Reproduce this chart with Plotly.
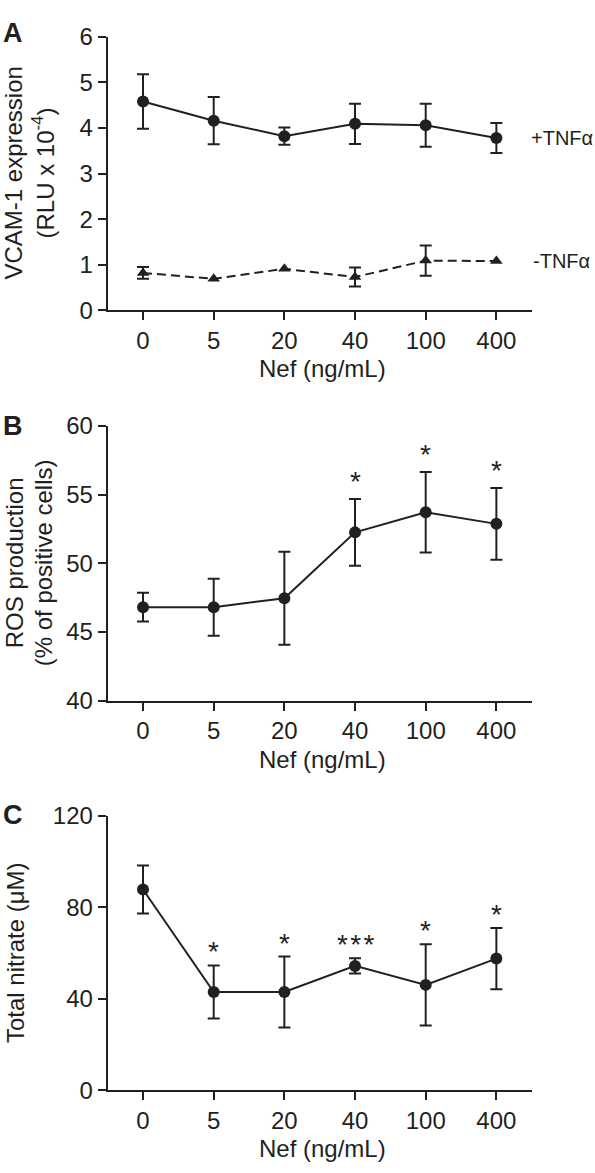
import plotly.graph_objects as go

# ---------------- data ----------------
nef_labels = ["0", "5", "20", "40", "100", "400"]

vcam_plus = [4.58, 4.16, 3.82, 4.09, 4.06, 3.78]
vcam_plus_err = [0.60, 0.52, 0.19, 0.44, 0.47, 0.33]
vcam_minus = [0.82, 0.69, 0.91, 0.73, 1.09, 1.08]
vcam_minus_err = [0.13, None, None, 0.21, 0.33, None]

ros = [46.8, 46.8, 47.45, 52.25, 53.72, 52.87]
ros_err = [1.05, 2.08, 3.39, 2.43, 2.93, 2.62]
ros_sig = ["", "", "", "*", "*", "*"]

nitrate = [87.8, 43.0, 43.0, 54.4, 46.1, 57.6]
nitrate_err = [10.5, 11.6, 15.5, 3.3, 17.8, 13.4]
nitrate_sig = ["", "*", "*", "*\u200a*\u200a*", "*", "*"]

# ---------------- style ----------------
W, H = 595, 1173
INK = "#231f20"
FONT = "Arial, Liberation Sans, Helvetica, sans-serif"
TICK_SIZE = 24
TITLE_SIZE = 24


def px_x(p):
    return p / W


def px_y(p):
    return 1 - p / H


x_dom = [px_x(107.7), px_x(531.7)]
panels = [  # (top px, bottom px)
    (23.3, 303.3),
    (421.7, 702.7),
    (820.7, 1101.7),
]
xpos = list(range(len(nef_labels)))

fig = go.Figure()


def err_trace(ys, errs, axis_suffix):
    keep = [i for i, e in enumerate(errs) if e is not None]
    return go.Scatter(
        x=[xpos[i] for i in keep],
        y=[ys[i] for i in keep],
        mode="markers",
        marker=dict(size=1, opacity=0, color=INK),
        error_y=dict(type="data", array=[errs[i] for i in keep], visible=True,
                     color=INK, thickness=2, width=6),
        xaxis="x" + axis_suffix, yaxis="y" + axis_suffix,
        showlegend=False, hoverinfo="skip",
    )


# Panel A
fig.add_trace(err_trace(vcam_plus, vcam_plus_err, ""))
fig.add_trace(go.Scatter(x=xpos, y=vcam_plus, mode="lines+markers",
                         line=dict(color=INK, width=2),
                         marker=dict(symbol="circle", size=12, color=INK),
                         xaxis="x", yaxis="y", showlegend=False, name="+TNFα"))
fig.add_trace(err_trace(vcam_minus, vcam_minus_err, ""))
fig.add_trace(go.Scatter(x=xpos, y=vcam_minus, mode="lines+markers",
                         line=dict(color=INK, width=2, dash="9px,5px"),
                         marker=dict(symbol="triangle-up", size=11, color=INK),
                         xaxis="x", yaxis="y", showlegend=False, name="-TNFα"))

# Panel B
fig.add_trace(err_trace(ros, ros_err, "2"))
fig.add_trace(go.Scatter(x=xpos, y=ros, mode="lines+markers",
                         line=dict(color=INK, width=2),
                         marker=dict(symbol="circle", size=12, color=INK),
                         xaxis="x2", yaxis="y2", showlegend=False))

# Panel C
fig.add_trace(err_trace(nitrate, nitrate_err, "3"))
fig.add_trace(go.Scatter(x=xpos, y=nitrate, mode="lines+markers",
                         line=dict(color=INK, width=2),
                         marker=dict(symbol="circle", size=12, color=INK),
                         xaxis="x3", yaxis="y3", showlegend=False))

axis_common = dict(showline=True, linecolor=INK, linewidth=2, ticks="outside",
                   ticklen=8, tickwidth=2, tickcolor=INK, showgrid=False,
                   zeroline=False, tickfont=dict(family=FONT, size=TICK_SIZE, color=INK))

y_ranges = [(0, 6, 1), (40, 60, 5), (0, 120, 40)]
layout = dict(
    width=W, height=H,
    margin=dict(l=0, r=0, t=0, b=0),
    paper_bgcolor="white", plot_bgcolor="white",
    font=dict(family=FONT, color=INK),
    showlegend=False,
)
for k, ((top, bot), (y0, y1, dt)) in enumerate(zip(panels, y_ranges)):
    sfx = "" if k == 0 else str(k + 1)
    layout["xaxis" + sfx] = dict(axis_common, domain=x_dom,
                                 tickmode="array", tickvals=xpos, ticktext=nef_labels,
                                 range=[-0.5, 5.5], anchor="y" + sfx)
    layout["yaxis" + sfx] = dict(axis_common, domain=[px_y(bot), px_y(top)],
                                 range=[y0, y1], dtick=dt, anchor="x" + sfx)

annotations = []
# panel letters
for letter, cy in zip("ABC", [19, 422, 820]):
    annotations.append(dict(text="<b>%s</b>" % letter, xref="paper", yref="paper",
                            x=px_x(1), y=px_y(cy), xanchor="left", yanchor="middle",
                            showarrow=False, font=dict(family=FONT, size=27, color=INK)))

# y titles (each line placed separately)
y_title_lines = [
    [("VCAM-1 expression", 14), ("(RLU x 10<sup>-4</sup>)", 43)],
    [("ROS production", 14), ("(% of positive cells)", 43)],
    [("Total nitrate (μM)", 15)],
]
for lines, (top, bot) in zip(y_title_lines, panels):
    for t, xc in lines:
        annotations.append(dict(text=t, xref="paper", yref="paper", x=px_x(xc),
                                y=px_y((top + bot) / 2), xanchor="center",
                                yanchor="middle", textangle=-90, showarrow=False,
                                font=dict(family=FONT, size=TITLE_SIZE, color=INK)))

# x titles
for (top, bot) in panels:
    annotations.append(dict(text="Nef (ng/mL)", xref="paper", yref="paper",
                            x=px_x(322), y=px_y(bot + 60), xanchor="center",
                            yanchor="middle", showarrow=False,
                            font=dict(family=FONT, size=TITLE_SIZE, color=INK)))

# series labels in A
annotations.append(dict(text="+TNFα", xref="paper", yref="y", x=px_x(529),
                        y=vcam_plus[-1], xanchor="left", yanchor="middle",
                        showarrow=False, font=dict(family=FONT, size=20, color=INK)))
annotations.append(dict(text="-TNFα", xref="paper", yref="y", x=px_x(531),
                        y=vcam_minus[-1], xanchor="left", yanchor="middle",
                        showarrow=False, font=dict(family=FONT, size=20, color=INK)))

# significance stars
for sfx, vals, errs, sigs, ys in [("2", ros, ros_err, ros_sig, 0),
                                  ("3", nitrate, nitrate_err, nitrate_sig, -4)]:
    for xi, v, e, s in zip(xpos, vals, errs, sigs):
        if s:
            annotations.append(dict(text=s, xref="x" + sfx, yref="y" + sfx, x=xi,
                                    y=v + e, xanchor="center", yanchor="bottom",
                                    yshift=ys, showarrow=False,
                                    font=dict(family=FONT, size=28, color=INK)))

layout["annotations"] = annotations
fig.update_layout(**layout)
fig.write_html("out.html",
               config={"displayModeBar": False},
               post_script="document.body.style.margin='0';"
                           "document.body.style.overflow='hidden';")
